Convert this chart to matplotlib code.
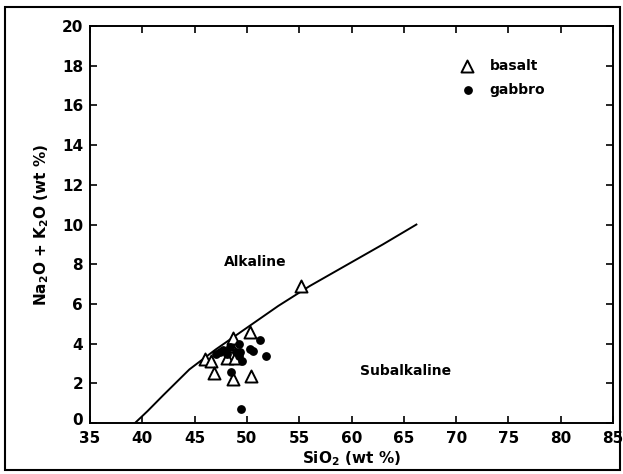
import matplotlib
matplotlib.use("Agg")
import matplotlib.pyplot as plt
import matplotlib.transforms as mtransforms
from matplotlib.patches import Rectangle

# Irvine & Baragar style alkaline / subalkaline divide
curve_si = [39.3, 40.5, 42.0, 44.5, 47.0, 50.0, 53.0, 56.0, 60.0, 63.0, 66.2]
curve_alk = [0.0, 0.6, 1.4, 2.7, 3.7, 4.8, 5.9, 6.9, 8.1, 9.0, 10.0]

basalt_si = [46.0, 46.6, 46.9, 48.1, 48.9, 48.5, 48.7, 48.7, 50.3, 50.4, 55.2]
basalt_alk = [3.2, 3.1, 2.5, 3.3, 3.3, 3.9, 4.3, 2.2, 4.6, 2.35, 6.9]

gabbro_si = [47.0, 47.4, 47.7, 48.1, 48.4, 49.0, 49.2, 49.3, 49.2, 49.5,
             48.5, 50.3, 50.6, 51.25, 51.8, 49.4]
gabbro_alk = [3.5, 3.6, 3.7, 3.5, 3.85, 3.6, 4.0, 3.6, 3.4, 3.1,
              2.55, 3.75, 3.65, 4.2, 3.4, 0.7]

x_ticks = list(range(35, 90, 5))
y_ticks = list(range(0, 22, 2))

plt.rcParams['font.family'] = ['DejaVu Sans']
plt.rcParams['font.weight'] = 'bold'

fig = plt.figure(figsize=(6.23, 4.74), dpi=100)
ax = fig.add_axes([0.1445, 0.1076, 0.8395, 0.8374])

ax.plot(curve_si, curve_alk, color='black', linewidth=1.4)
ax.scatter(basalt_si, basalt_alk, marker='^', s=75, facecolors='white',
           edgecolors='black', linewidths=1.4, zorder=3)
ax.scatter(gabbro_si, gabbro_alk, marker='o', s=28, color='black', zorder=4)

# legend drawn by hand like the original
ax.scatter([71.0], [18.0], marker='^', s=75, facecolors='white',
           edgecolors='black', linewidths=1.4)
ax.scatter([71.1], [16.8], marker='o', s=28, color='black')
ax.text(73.2, 18.0, 'basalt', fontsize=10, fontweight='bold', va='center')
ax.text(73.2, 16.8, 'gabbro', fontsize=10, fontweight='bold', va='center')

ax.text(50.8, 8.1, 'Alkaline', fontsize=10, fontweight='bold', va='center', ha='center')
ax.text(65.2, 2.6, 'Subalkaline', fontsize=10, fontweight='bold', va='center', ha='center')

ax.set_xlim(35, 85)
ax.set_ylim(0, 20)
ax.set_xticks(x_ticks)
ax.set_yticks(y_ticks)
ax.tick_params(direction='in', length=5, width=1.2, top=True, right=True,
               labelsize=11)
ax.tick_params(axis='x', pad=6)
ax.tick_params(axis='y', pad=5)
for lab in ax.get_xticklabels() + ax.get_yticklabels():
    lab.set_fontweight('bold')
# nudge the "0" up a little so it clears the "35"
zero = ax.get_yticklabels()[0]
zero.set_transform(zero.get_transform() +
                   mtransforms.ScaledTranslation(0, 3 / 72, fig.dpi_scale_trans))
for sp in ax.spines.values():
    sp.set_linewidth(1.4)

ax.set_xlabel(r'SiO$_\mathregular{2}$ (wt %)', fontsize=11, fontweight='bold', labelpad=2)
ax.set_ylabel(r'Na$_\mathregular{2}$O + K$_\mathregular{2}$O (wt %)', fontsize=11,
              fontweight='bold', labelpad=8)

# outer frame of the scanned figure
fig.patches.append(Rectangle((0.008, 0.008), 0.987, 0.978, transform=fig.transFigure,
                             fill=False, edgecolor='black', linewidth=1.5))

fig.savefig('out.png', dpi=100)
